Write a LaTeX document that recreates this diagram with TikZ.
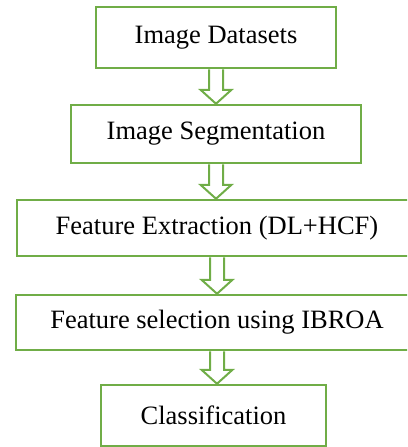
\documentclass[tikz,border=0pt]{standalone}
\usepackage{fontspec}
\setmainfont{Liberation Serif}
\usetikzlibrary{positioning, calc}
\definecolor{boxgreen}{RGB}{112,173,71}
\tikzset{
	stage/.style={draw=boxgreen, line width=2.5pt, inner sep=0pt,
		font=\fontsize{26.5}{30}\selectfont},
	hollowarrow/.style={draw=boxgreen, line width=2pt, line join=miter}
}
% block arrow from the bottom of #1 to the top of #2
\newcommand{\blockarrow}[2]{%
	\draw[hollowarrow] ($(#1.south)+(-7,0)$) -- ($(#2.north -| #1.south)+(-7,-14)$)
		-- ($(#2.north -| #1.south)+(-15.5,-14)$) -- (#2.north -| #1.south)
		-- ($(#2.north -| #1.south)+(15.5,-14)$) -- ($(#2.north -| #1.south)+(7,-14)$)
		-- ($(#1.south)+(7,0)$);
}

\begin{document}
\begin{tikzpicture}[x=1pt, y=-1pt]
		\useasboundingbox (0,0) rectangle (407,447);
		\clip (0,0) rectangle (407,447);
		\node[stage, minimum width=240pt, minimum height=61pt] (data) at (216,37.5) {Image Datasets};
		\node[stage, minimum width=290pt, minimum height=58pt] (segm) at (216,134) {Image Segmentation};
		\node[stage, minimum width=400pt, minimum height=56pt] (extr) at (217,228) {Feature Extraction (DL+HCF)};
		\node[stage, minimum width=402pt, minimum height=55pt] (sele) at (217,322.5) {Feature selection using IBROA};
		\node[stage, minimum width=225pt, minimum height=61pt] (clas) at (213.5,415.5) {Classification};
		\blockarrow{data}{segm}
		\blockarrow{segm}{extr}
		\blockarrow{extr}{sele}
		\blockarrow{sele}{clas}
\end{tikzpicture}
\end{document}
